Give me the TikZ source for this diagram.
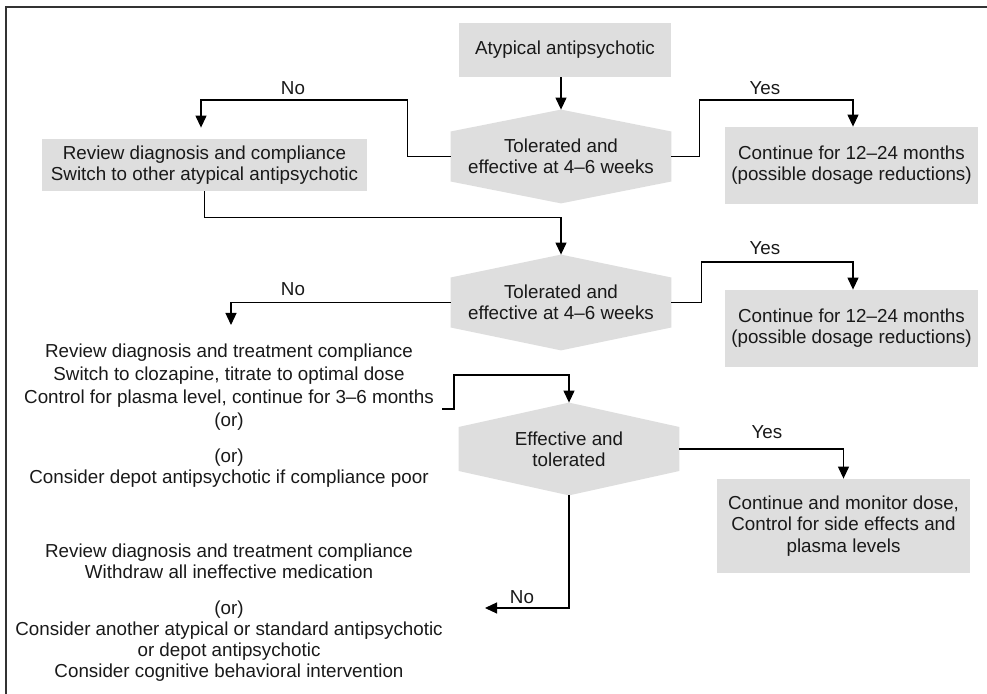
\documentclass[tikz,border=0pt]{standalone}
\usepackage{fontspec}
\setmainfont{Liberation Sans}
\usetikzlibrary{positioning,arrows.meta,backgrounds,calc}

\definecolor{boxgray}{HTML}{DEDEDE}

% grey hexagon behind a decision node
\newcommand{\hexback}[2]{%
  \fill[boxgray] (#1.north) -- ($(#1.east)+(0,-#2)$) -- ($(#1.east)+(0,#2)$)
    -- (#1.south) -- ($(#1.west)+(0,#2)$) -- ($(#1.west)+(0,-#2)$) -- cycle;}

\tikzset{
  box/.style={fill=boxgray, inner sep=0pt, align=center},
  hexa/.style={inner sep=0pt, align=center, minimum width=110pt},
  plain/.style={inner sep=0pt, align=center},
  lbl/.style={inner sep=0pt},
  arr/.style={-{Triangle[width=5.5pt,length=6pt]}, line width=0.6pt},
}

\begin{document}
\begin{tikzpicture}[x=0.5pt, y=-0.5pt, font=\fontsize{9.4}{10.6}\selectfont, text=black!90]
\useasboundingbox (0,0) rectangle (987,694);
\draw[line width=0.8pt, black!80] (6,694) -- (6,7) -- (987,7);

% first line
\node[box, minimum width=106pt, minimum height=27pt] (start) at (565,50) {Atypical antipsychotic};
\node[hexa, minimum height=46.5pt] (dec1) at (561,156.5) {Tolerated and\\effective at 4--6 weeks};
\node[box, minimum width=162.5pt, minimum height=26pt] (switch) at (204.5,165) {Review diagnosis and compliance\\Switch to other atypical antipsychotic};
\node[box, minimum width=126.5pt, minimum height=38.5pt] (cont1) at (851.5,165.5) {Continue for 12--24 months\\(possible dosage reductions)};

% second line
\node[hexa, minimum height=47.5pt] (dec2) at (561,302.5) {Tolerated and\\effective at 4--6 weeks};
\node[box, minimum width=126.5pt, minimum height=38.5pt] (cont2) at (851.5,328.5) {Continue for 12--24 months\\(possible dosage reductions)};
\node[plain, font=\fontsize{9.4}{11.6}\selectfont] (cloz) at (229,387) {Review diagnosis and treatment compliance\\Switch to clozapine, titrate to optimal dose\\Control for plasma level, continue for 3--6 months\\(or)};
\node[plain] (depot) at (229,468) {(or)\\Consider depot antipsychotic if compliance poor};

% third line
\node[hexa, minimum height=46pt] (dec3) at (569,449) {Effective and\\tolerated};
\node[box, minimum width=126.5pt, minimum height=47pt] (mon) at (843.5,526) {Continue and monitor dose,\\Control for side effects and\\plasma levels};
\node[plain] (review) at (229,561.5) {Review diagnosis and treatment compliance\\Withdraw all ineffective medication};
\node[plain] (other) at (229,641) {(or)\\Consider another atypical or standard antipsychotic\\or depot antipsychotic\\Consider cognitive behavioral intervention};

\begin{scope}[on background layer]
  \hexback{dec1}{25}
  \hexback{dec2}{25}
  \hexback{dec3}{22}
\end{scope}

% connectors
\coordinate (no1) at (201,100);
\coordinate (yes1) at (853,100);
\coordinate (no2) at (231,325);
\coordinate (yes2) at (853,262);
\coordinate (cloz end) at (442,409);
\coordinate (no3) at (485,608);

\draw[arr] (start.south -| dec1.north) -- (dec1.north);
\draw[arr, shorten >=5.5pt] (dec1.west) -- ++(-43,0) |- (no1) -- (no1 |- switch.north);
\draw[arr] (dec1.east) -- ++(28,0) |- (yes1) -- (yes1 |- cont1.north);
\draw[arr] (switch.south) -- ++(0,26) -| (dec2.north);
\draw[arr] (dec2.west) -| (no2);
\draw[arr] (dec2.east) -- ++(30,0) |- (yes2) -- (yes2 |- cont2.north);
\draw[arr] (cloz end) -- ++(12,0) -- ++(0,-34) -| (dec3.north);
\draw[arr] (dec3.east) -| (mon.north);
\draw[arr] (dec3.south) |- (no3);

% labels
\node[lbl] (no1 lbl) at (293,88) {No};
\node[lbl] (yes1 lbl) at (765,88) {Yes};
\node[lbl] (no2 lbl) at (293,289) {No};
\node[lbl] (yes2 lbl) at (765,248) {Yes};
\node[lbl] (yes3 lbl) at (767,432) {Yes};
\node[lbl] (no3 lbl) at (522,597) {No};
\end{tikzpicture}
\end{document}
